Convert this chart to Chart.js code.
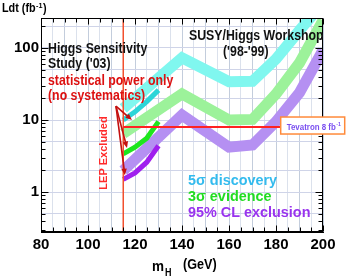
<!DOCTYPE html>
<html>
<head>
<meta charset="utf-8">
<script src="https://cdn.jsdelivr.net/npm/chart.js@4.4.1/dist/chart.umd.min.js"></script>
<style>html,body{margin:0;padding:0;background:#fff}</style>
</head>
<body>
<canvas id="myChart" width="346" height="277"></canvas>
<script>
// SUSY/Higgs workshop ('98-'99) curves, mH in GeV, luminosity in fb-1
var wsMass = [115, 140, 160, 170, 180, 190, 200];
var ws5sigma = [14.5, 73, 34, 34.5, 70, 175, 420];
var ws3sigma = [6.5, 23, 10, 10.2, 23, 62, 240];
var ws95cl = [2.0, 11.7, 4.2, 4.5, 9.5, 24, 93];

// Higgs sensitivity study ('03), statistical power only
var studyMass = [115, 120, 125, 130];
var st5sigma = [10, 13, 18, 26];
var st3sigma = [3.4, 4.2, 5.6, 9.5];
var st95cl = [1.5, 1.85, 2.6, 4.4];

var lepLimit = 115;
var tevatronLumi = 8;
var tevatronEnd = 182;

var xTicks = [80, 100, 120, 140, 160, 180, 200];
var yLabels = [1, 10, 100];
var yGrid = [0.5, 1, 2, 5, 10, 20, 50, 100, 200];
var yMin = 0.28, yMax = 260;

var FONT = '"Liberation Sans", Arial, sans-serif';

function pts(xs, ys){
    return xs.map(function(x, i){ return {x: x, y: ys[i]} })
}
function curve(label, xs, ys, color, width, order){
    return {
        label: label, data: pts(xs, ys), borderColor: color, borderWidth: width,
        pointRadius: 0, fill: false, tension: 0, borderJoinStyle: 'miter',
        borderCapStyle: 'butt', clip: 0, order: order
    }
}

function txt(ctx, s, x, y, size, color, sx){
    ctx.save()
    ctx.font = 'bold ' + size + 'px ' + FONT
    ctx.fillStyle = color
    ctx.textBaseline = 'alphabetic'
    ctx.textAlign = 'left'
    ctx.translate(x, y)
    ctx.scale(sx || 0.88, 1)
    ctx.fillText(s, 0, 0)
    var w = ctx.measureText(s).width * (sx || 0.88)
    ctx.restore()
    return w
}

function arrow(ctx, x0, y0, x1, y1){
    var ang = Math.atan2(y1 - y0, x1 - x0), s = 7
    ctx.beginPath()
    ctx.moveTo(x0, y0)
    ctx.lineTo(x1 - Math.cos(ang) * s * 0.8, y1 - Math.sin(ang) * s * 0.8)
    ctx.stroke()
    ctx.beginPath()
    ctx.moveTo(x1, y1)
    ctx.lineTo(x1 - s * Math.cos(ang - 0.4), y1 - s * Math.sin(ang - 0.4))
    ctx.lineTo(x1 - s * Math.cos(ang + 0.4), y1 - s * Math.sin(ang + 0.4))
    ctx.closePath()
    ctx.fill()
}

var decor = {
    id: 'decor',
    afterDatasetsDraw: function(chart){
        var ctx = chart.ctx, a = chart.chartArea
        var xs = chart.scales.x, ys = chart.scales.y
        ctx.save()
        // frame + inward ticks
        ctx.strokeStyle = '#000'
        ctx.lineWidth = 1
        var L = Math.round(a.left) + 0.5, R = Math.round(a.right) - 0.5
        var T = Math.round(a.top) + 0.5, B = Math.round(a.bottom) - 0.5
        ctx.strokeRect(L, T, R - L, B - T)
        ctx.beginPath()
        for (var v = 80; v <= 200; v += 5){
            var px = Math.round(xs.getPixelForValue(v)) + 0.5
            var len = v % 20 === 0 ? 6 : 4
            ctx.moveTo(px, B); ctx.lineTo(px, B - len)
            ctx.moveTo(px, T); ctx.lineTo(px, T + len)
        }
        [0.1, 1, 10, 100].forEach(function(d){
            for (var m = 1; m <= 9; m++){
                var val = m * d
                if (val < yMin || val > yMax) continue
                var py = Math.round(ys.getPixelForValue(val)) + 0.5
                var l2 = m === 1 ? 7 : 4
                ctx.moveTo(L, py); ctx.lineTo(L + l2, py)
                ctx.moveTo(R, py); ctx.lineTo(R - l2, py)
            }
        })
        ctx.stroke()

        // arrows from the "statistical power only" note
        ctx.strokeStyle = '#c41010'
        ctx.fillStyle = '#c41010'
        ctx.lineWidth = 1.6
        var tx = xs.getPixelForValue(111.9), ty = ys.getPixelForValue(15.6)
        ;[[118.7, 10], [116.6, 4.1], [115.7, 1.72]].forEach(function(h){
            arrow(ctx, tx, ty, xs.getPixelForValue(h[0]), ys.getPixelForValue(h[1]))
        })

        // Tevatron box
        var by = ys.getPixelForValue(tevatronLumi)
        var bx = xs.getPixelForValue(tevatronEnd)
        ctx.fillStyle = '#fff'
        ctx.fillRect(bx, by - 10, 64, 17)
        ctx.strokeStyle = '#ff8a3a'
        ctx.lineWidth = 1.5
        ctx.strokeRect(bx, by - 10, 64, 17)
        var w = txt(ctx, 'Tevatron 8 fb', bx + 6, by + 3, 9, '#7a4ff0', 0.88)
        txt(ctx, '-1', bx + 6 + w + 0.5, by - 1, 6, '#7a4ff0', 0.88)

        // LEP Excluded (rotated)
        ctx.save()
        ctx.translate(104, 153)
        ctx.rotate(-Math.PI / 2)
        ctx.font = 'bold 11px ' + FONT
        ctx.fillStyle = '#ff2a2a'
        ctx.textAlign = 'center'
        ctx.textBaseline = 'middle'
        ctx.fillText('LEP Excluded', 0, 0)
        ctx.restore()

        // annotations
        txt(ctx, 'Higgs Sensitivity', 48, 53, 14, '#111')
        txt(ctx, "Study ('03)", 48, 68, 14, '#111')
        txt(ctx, 'statistical power only', 48, 85, 14, '#dd1111')
        txt(ctx, '(no systematics)', 48, 100, 14, '#dd1111')
        txt(ctx, 'SUSY/Higgs Workshop', 189, 40, 14, '#111')
        txt(ctx, "('98-'99)", 223, 56, 14, '#111')

        txt(ctx, '5\u03c3 discovery', 188, 185, 15, '#33bbee', 0.96)
        txt(ctx, '3\u03c3 evidence', 188, 201, 15, '#22dd22', 0.96)
        txt(ctx, '95% CL exclusion', 188, 217, 15, '#9933ee', 0.96)

        // axis titles
        var w2 = txt(ctx, 'Ldt (fb', 2, 12, 12, '#000', 0.9)
        var w3 = txt(ctx, '-1', 2 + w2 + 0.5, 8, 8, '#000', 0.9)
        txt(ctx, ')', 2 + w2 + w3 + 1, 12, 12, '#000', 0.9)
        txt(ctx, 'm', 152, 271, 15, '#000', 0.9)
        txt(ctx, 'H', 165, 276, 10, '#000', 0.9)
        txt(ctx, '(GeV)', 183, 269, 14, '#000', 0.9)
        ctx.restore()
    }
}

new Chart('myChart', {
    type: 'line',
    data: {
        datasets: [
            curve('Tevatron 8 fb-1', [lepLimit, tevatronEnd], [tevatronLumi, tevatronLumi], '#ff2222', 2, 1),
            curve('LEP excluded', [lepLimit, lepLimit], [yMin, yMax], '#f2502e', 1.5, 2),
            curve('5 sigma study', studyMass, st5sigma, '#2cd5d8', 5, 3),
            curve('3 sigma study', studyMass, st3sigma, '#1ee61e', 5, 4),
            curve('95% CL study', studyMass, st95cl, '#a020ee', 5, 5),
            curve('5 sigma workshop', wsMass, ws5sigma, '#80f7ef', 11, 8),
            curve('3 sigma workshop', wsMass, ws3sigma, '#9cf29a', 11, 9),
            curve('95% CL workshop', wsMass, ws95cl, '#b590f2', 11, 10)
        ]
    },
    options: {
        responsive: false,
        animation: false,
        devicePixelRatio: 1,
        layout: { padding: { top: 18, right: 23, bottom: 0, left: 0 } },
        plugins: { legend: { display: false }, tooltip: { enabled: false } },
        scales: {
            x: {
                type: 'linear', min: 80, max: 200,
                afterBuildTicks: function(scale){
                    var t = []
                    for (var v = 80; v <= 200; v += 5) t.push({value: v})
                    scale.ticks = t
                },
                afterFit: function(scale){ scale.height = 45 },
                ticks: {
                    autoSkip: false, maxRotation: 0, padding: 4, color: '#000',
                    font: { family: FONT, size: 15, weight: 'bold' },
                    callback: function(v){ return xTicks.indexOf(v) >= 0 ? v : '' }
                },
                grid: {
                    drawTicks: false,
                    color: function(c){ return c.tick && c.tick.value % 10 === 0 ? '#c3cddc' : '#dbe1ec' }
                },
                border: { color: '#000', width: 1 }
            },
            y: {
                type: 'logarithmic', min: yMin, max: yMax,
                afterBuildTicks: function(scale){
                    scale.ticks = yGrid.map(function(v){ return {value: v} })
                },
                afterFit: function(scale){ scale.width = 41 },
                ticks: {
                    padding: 2, color: '#000',
                    font: { family: FONT, size: 15, weight: 'bold' },
                    callback: function(v){ return yLabels.indexOf(v) >= 0 ? String(v) : '' }
                },
                grid: { drawTicks: false, color: '#cfd4e8' },
                border: { color: '#000', width: 1 }
            }
        }
    },
    plugins: [decor]
});
</script>
</body>
</html>
